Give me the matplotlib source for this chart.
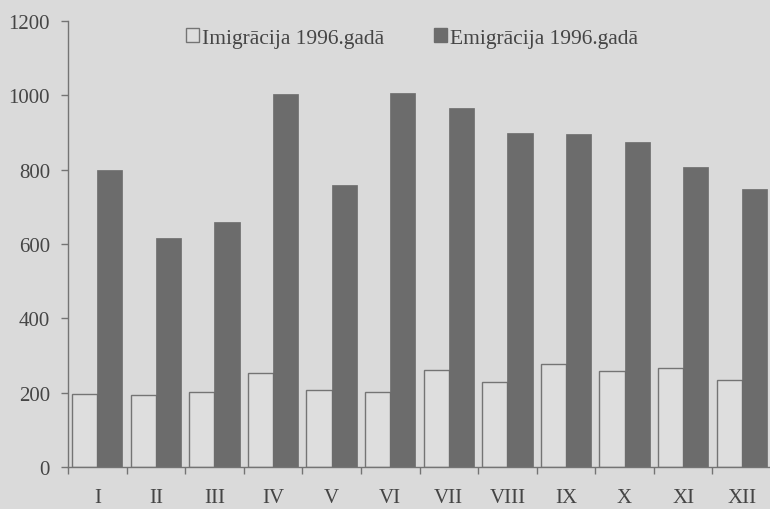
import matplotlib
matplotlib.use("Agg")
import matplotlib.pyplot as plt
import numpy as np
from matplotlib.patches import Patch

months = ["I", "II", "III", "IV", "V", "VI", "VII", "VIII", "IX", "X", "XI", "XII"]
immigration = [197, 193, 203, 254, 206, 203, 261, 229, 276, 258, 267, 234]
emigration = [800, 615, 660, 1003, 760, 1007, 965, 898, 896, 874, 808, 749]
yticks = [0, 200, 400, 600, 800, 1000, 1200]
label_imm = "Imigrācija 1996.gadā"
label_emi = "Emigrācija 1996.gadā"

bg = "#dadada"
dark = "#6c6c6c"
edge = "#747474"
txt = "#454545"

plt.rcParams["font.family"] = ["Liberation Serif", "DejaVu Serif"]

fig = plt.figure(figsize=(7.7, 5.1), dpi=100, facecolor=bg)
ax = fig.add_axes([68 / 770, 42 / 510, 703 / 770, 446 / 510])
ax.set_facecolor(bg)

x = np.arange(len(months))
w = 0.43
ax.bar(x - w / 2, immigration, width=w, facecolor="#dedede", edgecolor=edge, linewidth=1.0)
ax.bar(x + w / 2, emigration, width=w, facecolor=dark, edgecolor=dark, linewidth=0.5)

ax.set_xlim(-0.5, 11.5)
ax.set_ylim(0, 1200)
ax.set_yticks(yticks)
ax.set_xticks(x)
ax.set_xticklabels(months)
ax.set_xticks(np.arange(-0.5, 11.6, 1.0), minor=True)
ax.tick_params(axis="x", which="major", length=0, pad=15, labelsize=15, labelcolor=txt)
ax.tick_params(axis="x", which="minor", length=5, width=1.0, color=edge, direction="out")
ax.tick_params(axis="y", length=5, width=1.0, color=edge, pad=8, labelsize=15, labelcolor=txt)

for s in ["top", "right"]:
    ax.spines[s].set_visible(False)
for s in ["left", "bottom"]:
    ax.spines[s].set_color(edge)
    ax.spines[s].set_linewidth(1.0)

handles = [Patch(facecolor="#dedede", edgecolor=edge, label=label_imm),
           Patch(facecolor=dark, edgecolor=dark, label=label_emi)]
leg = ax.legend(handles=handles, loc="center", bbox_to_anchor=(0.489, 0.962), ncol=2,
                frameon=False, fontsize=15.5, handlelength=0.6, handleheight=0.6,
                handletextpad=0.15, columnspacing=2.3, labelcolor=txt)

fig.savefig("out.png", dpi=100, facecolor=bg)
